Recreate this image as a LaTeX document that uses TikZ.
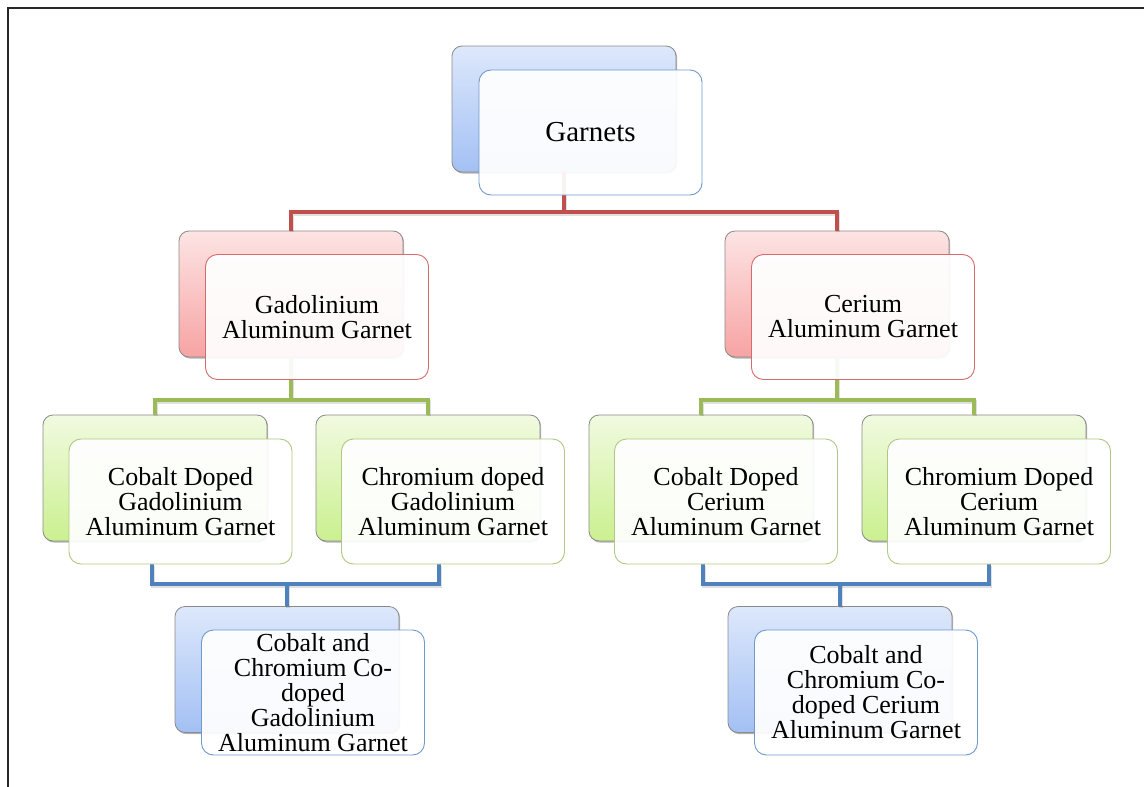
\documentclass[tikz,border=0pt]{standalone}
\usepackage{fontspec}
\setmainfont{Liberation Serif}
\usetikzlibrary{shadows}

\definecolor{blueTop}{HTML}{DDE8FB}
\definecolor{blueBot}{HTML}{A3C0F4}
\definecolor{blueEdge}{HTML}{7099CC}
\definecolor{redTop}{HTML}{FDE4E4}
\definecolor{redBot}{HTML}{F7A3A3}
\definecolor{redEdge}{HTML}{D66A6D}
\definecolor{greenTop}{HTML}{F1FAE0}
\definecolor{greenBot}{HTML}{CBF090}
\definecolor{greenEdge}{HTML}{B0C982}
\definecolor{lineRed}{HTML}{C0504D}
\definecolor{lineGreen}{HTML}{9BBB59}
\definecolor{lineBlue}{HTML}{4F81BD}
\definecolor{backEdge}{HTML}{8A8A8A}

\pgfdeclarelayer{backcards}
\pgfdeclarelayer{links}
\pgfsetlayers{backcards,links,main}

\begin{document}
\begin{tikzpicture}[x=1pt,y=-1pt,
  backbox/.style={rounded corners=10pt, minimum width=224pt, minimum height=126pt,
    inner sep=0pt, draw=backEdge, line width=0.8pt,
    drop shadow={shadow xshift=1.2pt, shadow yshift=-1.6pt, opacity=0.3, fill=black}},
  bluebk/.style={backbox, top color=blueTop, bottom color=blueBot},
  redbk/.style={backbox, top color=redTop, bottom color=redBot},
  greenbk/.style={backbox, top color=greenTop, bottom color=greenBot},
  frontbox/.style={rounded corners=12pt, minimum width=223pt, minimum height=125pt,
    inner sep=0pt, fill=white, fill opacity=0.93, text opacity=1, line width=0.9pt,
    align=center, font=\fontsize{26}{25}\selectfont},
  bluefr/.style={frontbox, draw=blueEdge},
  redfr/.style={frontbox, draw=redEdge},
  greenfr/.style={frontbox, draw=greenEdge},
  conn/.style={line width=4pt,
    preaction={draw=black, opacity=0.12, line width=4pt,
      transform canvas={shift={(1pt,-1.5pt)}}}},
  redline/.style={conn, draw=lineRed},
  greenline/.style={conn, draw=lineGreen},
  blueline/.style={conn, draw=lineBlue}]

\useasboundingbox (0,0) rectangle (1144,787);

% page frame
\draw[line width=2pt, black!85] (8,787) -- (8,7.5) -- (1144,7.5);

% back cards
\begin{pgfonlayer}{backcards}
\node[bluebk]  (root-b) at (564,109)   {};
\node[redbk]   (gag-b)  at (291,294)   {};
\node[redbk]   (cag-b)  at (837,294)   {};
\node[greenbk] (cog-b)  at (155,478)   {};
\node[greenbk] (crg-b)  at (428,478)   {};
\node[greenbk] (coc-b)  at (701,478)   {};
\node[greenbk] (crc-b)  at (974,478)   {};
\node[bluebk]  (ccg-b)  at (287,669.5) {};
\node[bluebk]  (ccc-b)  at (840,669.5) {};
\end{pgfonlayer}

% front cards with the labels
\node[bluefr, font=\fontsize{29}{29}\selectfont] (root-f) at (590.5,132.5) {Garnets};
\node[redfr]   (gag-f) at (317,317)     {Gadolinium\\Aluminum Garnet};
\node[redfr]   (cag-f) at (863,317)     {Cerium\\Aluminum Garnet};
\node[greenfr] (cog-f) at (180.5,501.5) {Cobalt Doped\\Gadolinium\\Aluminum Garnet};
\node[greenfr] (crg-f) at (453,501.5)   {Chromium doped\\Gadolinium\\Aluminum Garnet};
\node[greenfr] (coc-f) at (726,501.5)   {Cobalt Doped\\Cerium\\Aluminum Garnet};
\node[greenfr] (crc-f) at (999,501.5)   {Chromium Doped\\Cerium\\Aluminum Garnet};
\node[bluefr]  (ccg-f) at (313,692.5)   {Cobalt and\\Chromium Co-\\doped\\Gadolinium\\Aluminum Garnet};
\node[bluefr]  (ccc-f) at (866,692.5)   {Cobalt and\\Chromium Co-\\doped Cerium\\Aluminum Garnet};

% connectors, between the back and the front cards
\begin{pgfonlayer}{links}
\coordinate (rj)  at ([yshift=-40pt]root-b.south);
\coordinate (gjL) at ([yshift=-43pt]gag-b.south);
\coordinate (gjR) at ([yshift=-43pt]cag-b.south);
\coordinate (bjL) at ([yshift=22pt]ccg-b.north);
\coordinate (bjR) at ([yshift=22pt]ccc-b.north);

\draw[redline] (root-b.south) -- (rj);
\draw[redline] (gag-b.north) |- (rj) -| (cag-b.north);

\draw[greenline] (gag-b.south) -- (gjL);
\draw[greenline] (cog-b.north) |- (gjL) -| (crg-b.north);
\draw[greenline] (cag-b.south) -- (gjR);
\draw[greenline] (coc-b.north) |- (gjR) -| (crc-b.north);

\draw[blueline] ([xshift=-28.5pt]cog-f.south) |- (bjL) -| ([xshift=-14pt]crg-f.south);
\draw[blueline] (bjL) -- (ccg-b.north);
\draw[blueline] ([xshift=-23pt]coc-f.south) |- (bjR) -| ([xshift=-10pt]crc-f.south);
\draw[blueline] (bjR) -- (ccc-b.north);
\end{pgfonlayer}
\end{tikzpicture}
\end{document}
